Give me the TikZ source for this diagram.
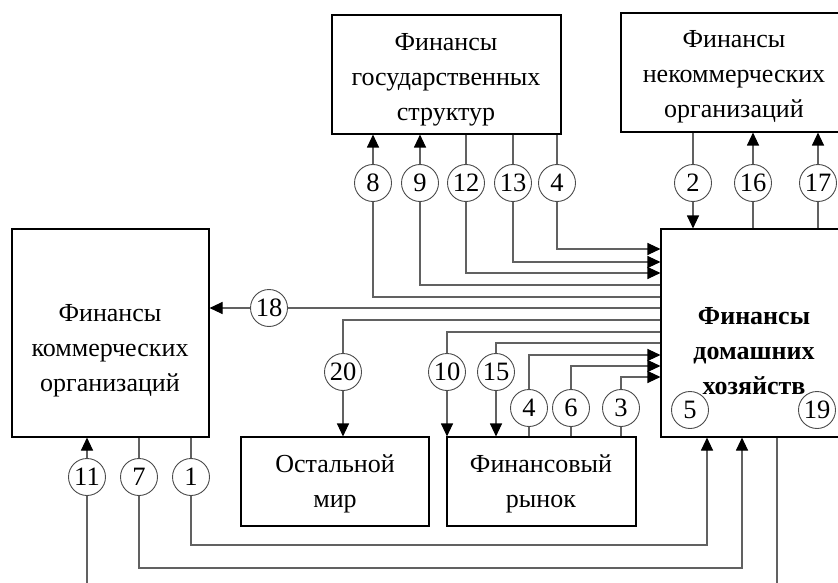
\documentclass[tikz,border=0pt]{standalone}
\usepackage{fontspec}
\setmainfont{Liberation Serif}
\newfontfamily\tnr{Liberation Serif}
\usetikzlibrary{arrows.meta,calc}
\begin{document}
\begin{tikzpicture}[x=1pt,y=-1pt,
  boxn/.style={draw=black,line width=1.1pt,inner sep=0pt},
  lbl/.style={align=center,font=\tnr\fontsize{26}{35}\selectfont,inner sep=0pt},
  num/.style={circle,draw=black!70,line width=0.9pt,minimum size=37pt,inner sep=0pt,font=\tnr\fontsize{26.5}{26.5}\selectfont,fill=white},
  con/.style={draw=black!62,line width=1.1pt},
  arr/.style={con,-{Triangle[length=13pt,width=12pt,color=black]}}]
\useasboundingbox (0,0) rectangle (838,583);
\clip (0,0) rectangle (838,583);
% boxes
\node[boxn,minimum width=229pt,minimum height=119pt] (gov) at (446.5,74.5) {};
\node[boxn,minimum width=226pt,minimum height=119pt] (npo) at (734,72.5) {};
\node[boxn,minimum width=186pt,minimum height=208pt] (hh) at (754,333) {};
\node[boxn,minimum width=197pt,minimum height=208pt] (com) at (110.5,333) {};
\node[boxn,minimum width=188pt,minimum height=89pt] (rest) at (335,481.5) {};
\node[boxn,minimum width=189pt,minimum height=89pt] (mkt) at (541.5,481.5) {};
% texts
\node[lbl] (govT) at (446,80) {Финансы\\государственных\\структур};
\node[lbl] (npoT) at (734,77) {Финансы\\некоммерческих\\организаций};
\node[lbl] (comT) at (110,351) {Финансы\\коммерческих\\организаций};
\node[lbl,font=\tnr\fontsize{26}{35}\selectfont\bfseries] (hhT) at (754,351) {Финансы\\домашних\\хозяйств};
\node[lbl] (restT) at (335,484) {Остальной\\мир};
\node[lbl] (mktT) at (541,484) {Финансовый\\рынок};
% circles
\node[num] (g8) at (373,183) {8};
\node[num] (g9) at (420,183) {9};
\node[num] (g12) at (466,183) {12};
\node[num] (g13) at (513,183) {13};
\node[num] (g4) at (557,183) {4};
\node[num] (n2) at (693,183) {2};
\node[num] (n16) at (753,183) {16};
\node[num] (n17) at (818,183) {17};
\node[num] (c18) at (269,308) {18};
\node[num] (c20) at (343,372) {20};
\node[num] (c10) at (447,372) {10};
\node[num] (c15) at (496,372) {15};
\node[num] (m4) at (529,408) {4};
\node[num] (m6) at (571,408) {6};
\node[num] (m3) at (621,408) {3};
\node[num] (h5) at (690,410) {5};
\node[num] (h19) at (817,410) {19};
\node[num] (c11) at (87,477) {11};
\node[num] (c7) at (139,477) {7};
\node[num] (c1) at (191,477) {1};
% levels
\coordinate (Lg4) at (0,249);
\coordinate (L13) at (0,262);
\coordinate (L12) at (0,273);
\coordinate (L9) at (0,285);
\coordinate (L8) at (0,297);
\coordinate (L18) at (0,308);
\coordinate (L20) at (0,320);
\coordinate (L10) at (0,332);
\coordinate (L15) at (0,343);
\coordinate (Lm4) at (0,355);
\coordinate (L6) at (0,366);
\coordinate (L3) at (0,377);
\coordinate (X1) at (707,545);
\coordinate (X7) at (742,568);
\coordinate (Bot) at (0,590);
\coordinate (X19) at (777,590);
% government links
\draw[arr] (g8) -- (gov.south -| g8);
\draw[con] (hh.west |- L8) -| (g8);
\draw[arr] (g9) -- (gov.south -| g9);
\draw[con] (hh.west |- L9) -| (g9);
\draw[con] (gov.south -| g12) -- (g12);
\draw[arr] (g12) |- (hh.west |- L12);
\draw[con] (gov.south -| g13) -- (g13);
\draw[arr] (g13) |- (hh.west |- L13);
\draw[con] (gov.south -| g4) -- (g4);
\draw[arr] (g4) |- (hh.west |- Lg4);
% non-profit links
\draw[con] (npo.south -| n2) -- (n2);
\draw[arr] (n2) -- (hh.north -| n2);
\draw[con] (hh.north -| n16) -- (n16);
\draw[arr] (n16) -- (npo.south -| n16);
\draw[con] (hh.north -| n17) -- (n17);
\draw[arr] (n17) -- (npo.south -| n17);
% commercial
\draw[con] (hh.west |- L18) -- (c18);
\draw[arr] (c18) -- (com.east |- L18);
% rest of world
\draw[con] (hh.west |- L20) -| (c20);
\draw[arr] (c20) -- (rest.north -| c20);
% market
\draw[con] (hh.west |- L10) -| (c10);
\draw[arr] (c10) -- (mkt.north -| c10);
\draw[con] (hh.west |- L15) -| (c15);
\draw[arr] (c15) -- (mkt.north -| c15);
\draw[con] (mkt.north -| m4) -- (m4);
\draw[arr] (m4) |- (hh.west |- Lm4);
\draw[con] (mkt.north -| m6) -- (m6);
\draw[arr] (m6) |- (hh.west |- L6);
\draw[con] (mkt.north -| m3) -- (m3);
\draw[arr] (m3) |- (hh.west |- L3);
% bottom
\draw[con] (c11 |- Bot) -- (c11);
\draw[arr] (c11) -- (com.south -| c11);
\draw[con] (com.south -| c7) -- (c7);
\draw[arr] (c7) |- (X7) -- (hh.south -| X7);
\draw[con] (com.south -| c1) -- (c1);
\draw[arr] (c1) |- (X1) -- (hh.south -| X1);
\draw[con] (hh.south -| X19) -- (X19);
\end{tikzpicture}
\end{document}
